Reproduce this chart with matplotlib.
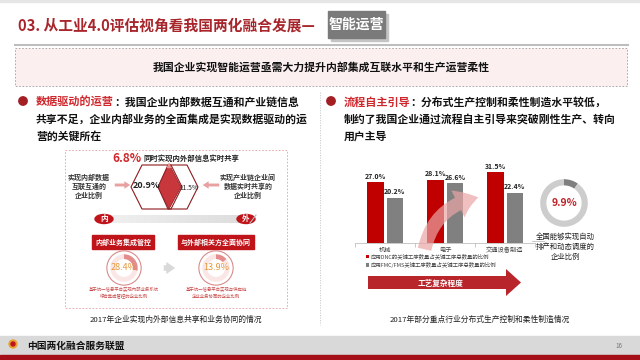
import matplotlib
matplotlib.use("Agg")
import matplotlib.pyplot as plt
import numpy as np
from matplotlib.patches import Rectangle, Polygon, Circle, FancyArrowPatch, Ellipse

plt.rcParams['font.family'] = ['Noto Sans CJK SC', 'DejaVu Sans']

# ---------------- data ----------------
industries = ["机械", "电子", "交通设备制造"]
dnc_share = [27.0, 28.1, 31.5]        # 应用DNC
fmc_share = [20.2, 26.6, 22.4]        # 应用FMC/FMS
series_names = ["应用DNC的关键工序数量占关键工序总数量的比例",
                "应用FMC/FMS关键工序数量占关键工序总数量的比例"]
internal_interconnect = 20.9
chain_sharing = 11.5
both_sharing = 6.8
internal_integration = 28.4
external_collab = 13.9
auto_schedule = 9.9

RED = "#C00000"
GRAY = "#808080"
DARKRED = "#A8262B"

fig = plt.figure(figsize=(6.4, 3.6), dpi=100)
bg = fig.add_axes([0, 0, 1, 1], zorder=0)
bg.set_xlim(0, 640)
bg.set_ylim(360, 0)
bg.axis("off")

# ---------------- header ----------------
bg.add_patch(Rectangle((0, 0), 640, 2, color="#E6E6E6"))
bg.text(18, 26, "03. 从工业4.0评估视角看我国两化融合发展—", color=DARKRED,
        fontsize=10.6, fontweight="bold", va="center", ha="left")
bg.add_patch(Rectangle((331, 14), 57, 27, color="#C4C4C4", zorder=1))
bg.add_patch(Rectangle((328, 11), 57, 27, color="#7A7A7A", zorder=2))
bg.text(356.5, 25, "智能运营", color="white", fontsize=10, fontweight="bold",
        ha="center", va="center", zorder=3)
bg.plot([15, 628], [45, 45], color="#BDBDBD", lw=1.5)

bg.add_patch(Rectangle((15, 48), 612, 38, facecolor="#FBEFEF", edgecolor="#A0A0A0",
                       lw=0.6, ls=(0, (2, 2))))
bg.text(321, 67, "我国企业实现智能运营亟需大力提升内部集成互联水平和生产运营柔性",
        fontsize=7.8, fontweight="bold", ha="center", va="center", color="#111111")

# divider
bg.plot([320, 320], [92, 325], color="#C8C8C8", lw=0.6, ls=(0, (1.5, 1.5)))

# ---------------- bullets ----------------
def bullet(x, y, head, lines):
    bg.add_patch(Circle((x, y - 1), 4.2, color="#A31F24"))
    t = bg.text(x + 13, y, head, color="#D0262C", fontsize=8, fontweight="bold",
                va="center", ha="left")
    fig.canvas.draw()
    bb = t.get_window_extent()
    xd = bg.transData.inverted().transform((bb.x1, 0))[0]
    bg.text(xd, y, "：" + lines[0], color="#111111", fontsize=7.8, fontweight="bold",
            va="center", ha="left")
    for i, ln in enumerate(lines[1:]):
        bg.text(x + 13, y + 17 * (i + 1), ln, color="#111111", fontsize=7.8,
                fontweight="bold", va="center", ha="left")

bullet(23, 102, "数据驱动的运营",
       ["我国企业内部数据互通和产业链信息",
        "共享不足，企业内部业务的全面集成是实现数据驱动的运",
        "营的关键所在"])
bullet(331, 102, "流程自主引导",
       ["分布式生产控制和柔性制造水平较低，",
        "制约了我国企业通过流程自主引导来突破刚性生产、转向",
        "用户主导"])

# ---------------- left infographic ----------------
bg.add_patch(Rectangle((65, 150), 222, 158, facecolor="white", edgecolor="#E0A0A0",
                       lw=0.6, ls=(0, (2, 2))))
bg.text(112, 158, f"{both_sharing}%", color="#D0262C", fontsize=8.5, fontweight="bold",
        ha="left", va="center")
bg.text(143, 158, "同时实现内外部信息实时共享", color="#222222", fontsize=5.3,
        fontweight="bold", ha="left", va="center")

# hexagons
hexL = [(131, 187), (142, 165), (171, 165), (182, 187), (171, 209), (142, 209)]
hexR = [(158, 187), (168, 165), (187, 165), (198, 187), (187, 209), (168, 209)]
bg.add_patch(Polygon(hexL, closed=True, fill=False, edgecolor="#8E1B1F", lw=0.8))
bg.add_patch(Polygon(hexR, closed=True, fill=False, edgecolor="#8E1B1F", lw=0.8))
diamond = [(158, 187), (169, 164), (181, 187), (169, 209)]
bg.add_patch(Polygon(diamond, closed=True, facecolor="#C8373B", edgecolor="#8E1B1F", lw=0.5))
bg.annotate("", xy=(169, 160), xytext=(169, 168),
            arrowprops=dict(arrowstyle="-|>", color="#E69090", lw=1.2, mutation_scale=5))
bg.text(146, 186, f"{internal_interconnect}%", color="#222222", fontsize=6.5,
        fontweight="bold", ha="center", va="center")
bg.text(189, 188, f"{chain_sharing}%", color="#222222", fontsize=4.8,
        ha="center", va="center")
bg.text(89, 186, "实现内部数据\n互联互通的\n企业比例", color="#333333", fontsize=5,
        fontweight="bold", ha="center", va="center", linespacing=1.25)
bg.text(248, 186, "实现产业链企业间\n数据实时共享的\n企业比例", color="#333333", fontsize=5,
        fontweight="bold", ha="center", va="center", linespacing=1.25)
bg.annotate("", xy=(133, 185), xytext=(112, 185),
            arrowprops=dict(arrowstyle="simple,head_width=0.9,head_length=0.7,tail_width=0.35",
                            color="#E8A0A0", mutation_scale=6, lw=0))
bg.annotate("", xy=(200, 185), xytext=(222, 185),
            arrowprops=dict(arrowstyle="simple,head_width=0.9,head_length=0.7,tail_width=0.35",
                            color="#E8A0A0", mutation_scale=6, lw=0))

# 内 -> 外 bar
gx = np.linspace(104, 250, 60)
for i in range(len(gx) - 1):
    c = 0.94 - 0.08 * i / len(gx)
    bg.add_patch(Rectangle((gx[i], 215), gx[i + 1] - gx[i] + 0.3, 8,
                           color=(c, c, c), lw=0))
bg.plot([250, 256], [223, 215], color="#BBBBBB", lw=0.8)
for cx, lab in [(104, "内"), (246, "外")]:
    bg.add_patch(Ellipse((cx, 219), 18, 9, color="#C0141B"))
    bg.text(cx, 219, lab, color="white", fontsize=5.5, fontweight="bold",
            ha="center", va="center")

for cx, lab in [(123, "内部业务集成管控"), (216, "与外部相关方全面协同")]:
    bg.text(cx, 242, lab, color="white", fontsize=5, fontweight="bold",
            ha="center", va="center",
            bbox=dict(boxstyle="square,pad=0.4", fc="#C0141B", ec="#C0141B"))

bg.annotate("", xy=(178, 268), xytext=(161, 268),
            arrowprops=dict(arrowstyle="simple,head_width=1.1,head_length=0.8,tail_width=0.5",
                            color="#D9D9D9", mutation_scale=8, lw=0))

def donut(cx, cy, r, val, seg_col, rest_col, txt_col, outer=None, width=0.32, fs=6.5, bold=False):
    ax = fig.add_axes([(cx - r) / 640, 1 - (cy + r) / 360, 2 * r / 640, 2 * r / 360], zorder=2)
    if outer:
        ax.add_patch(Circle((0, 0), 1.0, fill=False, edgecolor=outer, lw=0.8))
        rr = 0.8
    else:
        rr = 1.0
    ax.pie([val, 100 - val], colors=[seg_col, rest_col], startangle=90, counterclock=False,
           radius=rr, wedgeprops=dict(width=width, edgecolor="none"))
    ax.set_xlim(-1.05, 1.05)
    ax.set_ylim(-1.05, 1.05)
    ax.set_aspect("equal")
    ax.axis("off")
    ax.text(0, 0, f"{val}%", color=txt_col, fontsize=fs, ha="center", va="center",
            fontweight="bold" if bold else "normal")
    return ax

donut(124, 268, 18, internal_integration, "#E38C8C", "#FBE6E6", "#E8963A", outer="#D98C8C", width=0.28)
donut(216, 268, 18, external_collab, "#E38C8C", "#FBE6E6", "#E8963A", outer="#D98C8C", width=0.28)
bg.text(124, 293, "基于统一信息平台实现内部业务系统\n综合集成管控的企业比例", color="#C84A4A",
        fontsize=3.2, ha="center", va="center", linespacing=1.5)
bg.text(216, 293, "基于统一信息平台实现与供应链\n企业业务协同的企业比例", color="#C84A4A",
        fontsize=3.2, ha="center", va="center", linespacing=1.5)
bg.text(176, 320, "2017年企业实现内外部信息共享和业务协同的情况", color="#222222",
        fontsize=5.6, ha="center", va="center")

# ---------------- right bar chart ----------------
ax = fig.add_axes([355 / 640, 1 - 243 / 360, 180 / 640, 93 / 360], zorder=1)
ax.patch.set_alpha(0)
x = np.arange(len(industries))
w = 0.28
b1 = ax.bar(x - 0.165, dnc_share, w, color=RED, label=series_names[0])
b2 = ax.bar(x + 0.165, fmc_share, w, color=GRAY, label=series_names[1])
for bars, vals in [(b1, dnc_share), (b2, fmc_share)]:
    for r, v in zip(bars, vals):
        ax.text(r.get_x() + r.get_width() / 2, v + 1.2, f"{v:.1f}%", ha="center", va="bottom",
                fontsize=5, fontweight="bold", color="#222222")
ax.set_xlim(-0.5, 2.5)
ax.set_ylim(0, 41.5)
for s in ["top", "right", "left"]:
    ax.spines[s].set_visible(False)
ax.spines["bottom"].set_color("#BFBFBF")
ax.spines["bottom"].set_linewidth(0.6)
ax.set_yticks([])
ax.set_xticks(x)
ax.set_xticklabels(industries, fontsize=4.5, color="#444444")
ax.tick_params(axis="x", length=0, pad=2)
ax.set_xticks([-0.5, 0.5, 1.5, 2.5], minor=True)
ax.tick_params(axis="x", which="minor", length=3, color="#BFBFBF", width=0.6)
leg = ax.legend(loc="upper left", bbox_to_anchor=(0.05, -0.09), fontsize=3.9, frameon=False,
                handlelength=0.6, handleheight=0.6, handletextpad=0.3, labelspacing=0.45,
                borderaxespad=0, labelcolor="#444444")

# overlay: curved arrow
ov = fig.add_axes([0, 0, 1, 1], zorder=3)
ov.set_xlim(0, 640)
ov.set_ylim(360, 0)
ov.axis("off")
ov.add_patch(FancyArrowPatch((424, 252), (481, 197),
                             connectionstyle="arc3,rad=-0.35",
                             arrowstyle="simple,head_width=2.4,head_length=1.7,tail_width=1.1",
                             mutation_scale=9, color="#EBA5A5", alpha=0.7, lw=0))

# big red arrow
bg.add_patch(Polygon([(368, 276), (506, 276), (506, 269), (521, 282.5), (506, 296),
                      (506, 289), (368, 289)], closed=True, facecolor="#B8262C", edgecolor="none"))
bg.text(440, 283, "工艺复杂程度", color="white", fontsize=5.5, fontweight="bold",
        ha="center", va="center")
bg.text(480, 320, "2017年部分重点行业分布式生产控制和柔性制造情况", color="#222222",
        fontsize=5.6, ha="center", va="center")

# donut 9.9%
donut(564, 203, 25, auto_schedule, "#7F7F7F", "#CDCDCD", "#C0262C", width=0.26, fs=7.5, bold=True)
bg.text(565, 247, "全国能够实现自动\n排产和动态调度的\n企业比例", color="#222222",
        fontsize=5.3, ha="center", va="center", linespacing=1.3)
bg.plot([532, 544], [241, 241], color="#BFBFBF", lw=0.6)

# ---------------- footer ----------------
bg.add_patch(Rectangle((0, 336), 640, 19, color="#D9D9D9"))
bg.add_patch(Rectangle((0, 355), 640, 5, color="#A50F17"))
bg.add_patch(Circle((13, 344), 4, color="#E8A33A"))
bg.add_patch(Circle((13, 344), 2, color="#C0141B"))
bg.text(27, 346, "中国两化融合服务联盟", color="#111111", fontsize=7, fontweight="bold",
        ha="left", va="center")
bg.text(619, 346, "16", color="#777777", fontsize=4.5, ha="center", va="center")

fig.savefig("out.png", dpi=100)
